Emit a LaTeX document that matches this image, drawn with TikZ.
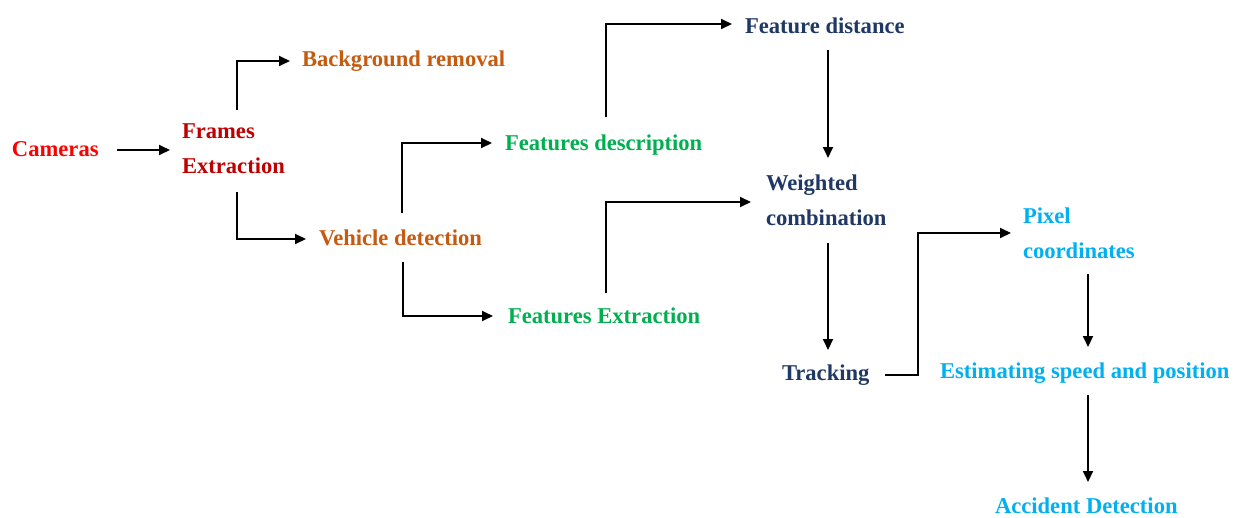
\documentclass[tikz,border=0pt]{standalone}
\usepackage{fontspec}
\setmainfont{Liberation Serif}
\usetikzlibrary{arrows.meta}
\definecolor{cred}{HTML}{FF0000}
\definecolor{cdred}{HTML}{C00000}
\definecolor{corange}{HTML}{C55A11}
\definecolor{cgreen}{HTML}{00B050}
\definecolor{cnavy}{HTML}{1F3864}
\definecolor{clblue}{HTML}{00B0F0}
\tikzset{
  lbl/.style={inner sep=0pt, outer sep=0pt, font=\fontsize{22.6}{34.5}\selectfont\bfseries, align=left},
  arr/.style={-{Triangle[length=11pt,width=10pt]}, line width=1.8pt, black},
}
\begin{document}
\begin{tikzpicture}[x=1pt,y=-1pt]
\useasboundingbox[fill=white] (0,0) rectangle (1241,517);
% nodes
\node[lbl, text=cred, anchor=base west] (cam) at (12,156) {Cameras};
\node[lbl, text=cdred, anchor=north west] (frames) at (182,124) {Frames\\Extraction};
\node[lbl, text=corange, anchor=base west] (bg) at (302,66) {Background removal};
\node[lbl, text=corange, anchor=base west] (veh) at (319,245) {Vehicle detection};
\node[lbl, text=cgreen, anchor=base west] (fdesc) at (505,150) {Features description};
\node[lbl, text=cgreen, anchor=base west] (fext) at (508,323) {Features Extraction};
\node[lbl, text=cnavy, anchor=base west] (fdist) at (745,33) {Feature distance};
\node[lbl, text=cnavy, anchor=north west] (wc) at (766,175) {Weighted\\combination};
\node[lbl, text=cnavy, anchor=base west] (trk) at (782,380) {Tracking};
\node[lbl, text=clblue, anchor=north west] (pix) at (1023,208) {Pixel\\coordinates};
\node[lbl, text=clblue, anchor=base west] (est) at (940,378) {Estimating speed and position};
\node[lbl, text=clblue, anchor=base west] (acc) at (995,513) {Accident Detection};
% connectors
\draw[arr] ([shift={(105,-6)}]cam.base west) -- ([shift={(-12,26)}]frames.north west);
\draw[arr] ([shift={(55,-14)}]frames.north west) |- ([shift={(-12,-5)}]bg.base west);
\draw[arr] ([shift={(55,68)}]frames.north west) |- ([shift={(-13,-6)}]veh.base west);
\draw[arr] ([shift={(83,-32)}]veh.base west) |- ([shift={(-13,-7)}]fdesc.base west);
\draw[arr] ([shift={(84,17)}]veh.base west) |- ([shift={(-15,-7)}]fext.base west);
\draw[arr] ([shift={(101,-33)}]fdesc.base west) |- ([shift={(-13,-9)}]fdist.base west);
\draw[arr] ([shift={(83,17)}]fdist.base west) -- ([shift={(62,-17)}]wc.north west);
\draw[arr] ([shift={(98,-30)}]fext.base west) |- ([shift={(-15,27)}]wc.north west);
\draw[arr] ([shift={(62,68)}]wc.north west) -- ([shift={(46,-30)}]trk.base west);
\draw[arr] ([shift={(103,-5)}]trk.base west) -- ++(33,0) |- ([shift={(-12,25)}]pix.north west);
\draw[arr] ([shift={(65,66)}]pix.north west) -- ([shift={(148,-31)}]est.base west);
\draw[arr] ([shift={(148,17)}]est.base west) -- ([shift={(93,-31)}]acc.base west);
\end{tikzpicture}
\end{document}
